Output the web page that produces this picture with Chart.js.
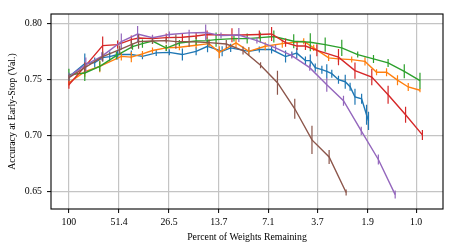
<!DOCTYPE html>
<html><head><meta charset="utf-8">
<script src="https://cdn.jsdelivr.net/npm/chart.js@4/dist/chart.umd.min.js"></script>
<style>html,body{margin:0;padding:0;background:#fff;}canvas{display:block;}</style>
</head><body>
<canvas id="c" width="457" height="252"></canvas>
<script>
const xTickValues = [100, 51.4, 26.5, 13.7, 7.1, 3.7, 1.9, 1.0];
const xTickLabels = ['100', '51.4', '26.5', '13.7', '7.1', '3.7', '1.9', '1.0'];
const yTickValues = [0.65, 0.70, 0.75, 0.80];
const yTickLabels = ['0.65', '0.70', '0.75', '0.80'];

const blueX = [100, 81.0, 71.0, 63.9, 58.2, 52.4, 43.7, 37.7, 31.4, 26.4, 22.2, 18.5, 15.9, 13.1, 11.7, 9.2, 8.0, 6.8, 5.65, 5.2, 4.87, 4.34, 4.07, 3.81, 3.49, 3.27, 3.06, 2.80, 2.56, 2.40, 2.25, 2.06, 1.93, 1.88];
const blueY = [0.7524, 0.7641, 0.7650, 0.7695, 0.7704, 0.7722, 0.7722, 0.7706, 0.7737, 0.7742, 0.7722, 0.7751, 0.7796, 0.7751, 0.7782, 0.7751, 0.7767, 0.7767, 0.7704, 0.7722, 0.7735, 0.7668, 0.7668, 0.7605, 0.7587, 0.7572, 0.7551, 0.7497, 0.7479, 0.7434, 0.7344, 0.7326, 0.7183, 0.7129];
const blueErr = [0.0036, 0.009, 0.0045, 0.0036, 0.0045, 0.0045, 0.0036, 0.0027, 0.0027, 0.0027, 0.0054, 0.0036, 0.0054, 0.0045, 0.0036, 0.0036, 0.0027, 0.0036, 0.0054, 0.0027, 0.0045, 0.0036, 0.0054, 0.0036, 0.0036, 0.0063, 0.0036, 0.0036, 0.0063, 0.0036, 0.0072, 0.0045, 0.009, 0.0081];

const orangeX = [100, 81.0, 66.4, 49.9, 43.7, 37.7, 33.0, 27.5, 23.1, 18.5, 15.6, 13.6, 10.9, 9.2, 7.4, 5.9, 4.44, 3.89, 3.19, 2.80, 2.35, 1.97, 1.69, 1.48, 1.28, 1.11, 0.95];
const orangeY = [0.7470, 0.7569, 0.7617, 0.7706, 0.7699, 0.7728, 0.7758, 0.7782, 0.7787, 0.7805, 0.7820, 0.7742, 0.7827, 0.7751, 0.7796, 0.7820, 0.7841, 0.7782, 0.7692, 0.7683, 0.7677, 0.7661, 0.7564, 0.7564, 0.7493, 0.7432, 0.7403];
const orangeErr = [0.0027, 0.0045, 0.0054, 0.0036, 0.0045, 0.0027, 0.0027, 0.0027, 0.0027, 0.0027, 0.0027, 0.0054, 0.0045, 0.0036, 0.0036, 0.0036, 0.0027, 0.0027, 0.0027, 0.0027, 0.0027, 0.0036, 0.0027, 0.0036, 0.0045, 0.0036, 0.0018];

const greenX = [100, 81.0, 66.4, 53.3, 43.0, 37.7, 33.0, 27.5, 23.1, 18.5, 16.0, 14.2, 11.2, 9.4, 7.9, 6.6, 5.07, 4.07, 3.34, 2.68, 2.17, 1.76, 1.45, 1.17, 0.95];
const greenY = [0.7542, 0.7557, 0.7617, 0.7713, 0.7793, 0.7820, 0.7843, 0.7780, 0.7825, 0.7843, 0.7847, 0.7856, 0.7865, 0.7865, 0.7874, 0.7883, 0.7841, 0.7832, 0.7811, 0.7782, 0.7722, 0.7683, 0.7647, 0.7572, 0.7488];
const greenErr = [0.0054, 0.0072, 0.0045, 0.0036, 0.0027, 0.0036, 0.0027, 0.0027, 0.0027, 0.0036, 0.0027, 0.0063, 0.0027, 0.0045, 0.0045, 0.0054, 0.0063, 0.0081, 0.0063, 0.0072, 0.0027, 0.0036, 0.0036, 0.0063, 0.0072];

const redX = [100, 81.0, 63.9, 52.4, 43.7, 39.7, 33.0, 27.5, 22.2, 18.5, 16.0, 11.5, 8.0, 6.8, 5.65, 4.85, 4.34, 3.73, 2.80, 2.25, 1.80, 1.45, 1.15, 0.92];
const redY = [0.7452, 0.7614, 0.7802, 0.7811, 0.7856, 0.7870, 0.7865, 0.7874, 0.7877, 0.7888, 0.7901, 0.7895, 0.7901, 0.7906, 0.7829, 0.7798, 0.7798, 0.7760, 0.7699, 0.7578, 0.7520, 0.7362, 0.7183, 0.7003];
const redErr = [0.0036, 0.0036, 0.0081, 0.0036, 0.0036, 0.0027, 0.0027, 0.0036, 0.0036, 0.0027, 0.0036, 0.0063, 0.0036, 0.0063, 0.0036, 0.0036, 0.0036, 0.0054, 0.0072, 0.0072, 0.0072, 0.0081, 0.0072, 0.0045];

const purpleX = [100, 79.9, 64.7, 49.9, 40.2, 33.0, 26.4, 20.3, 16.3, 13.3, 10.5, 8.26, 6.45, 5.2, 4.10, 3.27, 2.62, 2.07, 1.65, 1.32];
const purpleY = [0.7524, 0.7632, 0.7706, 0.7838, 0.7906, 0.7872, 0.7901, 0.7916, 0.7919, 0.7892, 0.7897, 0.7847, 0.7782, 0.7713, 0.7605, 0.7452, 0.7309, 0.7039, 0.6783, 0.6469];
const purpleErr = [0.0036, 0.0063, 0.0036, 0.0072, 0.0072, 0.0027, 0.0027, 0.0027, 0.0072, 0.0027, 0.0063, 0.0027, 0.0027, 0.0027, 0.0027, 0.0063, 0.0045, 0.0036, 0.0045, 0.0036];

const brownX = [100, 81.0, 63.9, 51.0, 43.7, 39.7, 33.0, 27.5, 24.2, 20.3, 15.6, 12.4, 9.93, 7.87, 6.29, 5.00, 3.98, 3.17, 2.53];
const brownY = [0.7515, 0.7605, 0.7704, 0.7767, 0.7811, 0.7838, 0.7843, 0.7847, 0.7838, 0.7838, 0.7829, 0.7816, 0.7758, 0.7627, 0.7470, 0.7237, 0.6958, 0.6806, 0.6487];
const brownErr = [0.0027, 0.0036, 0.0045, 0.0036, 0.0036, 0.0063, 0.0027, 0.0027, 0.0063, 0.0045, 0.0027, 0.0036, 0.0036, 0.0027, 0.0108, 0.009, 0.0126, 0.0063, 0.0027];

const seriesList = [
  {color: '#1f77b4', x: blueX, y: blueY, err: blueErr},
  {color: '#ff7f0e', x: orangeX, y: orangeY, err: orangeErr},
  {color: '#2ca02c', x: greenX, y: greenY, err: greenErr},
  {color: '#d62728', x: redX, y: redY, err: redErr},
  {color: '#9467bd', x: purpleX, y: purpleY, err: purpleErr},
  {color: '#8c564b', x: brownX, y: brownY, err: brownErr}
];

function linePts(xs, ys) { return xs.map((x, i) => ({x: x, y: ys[i]})); }
function errPts(xs, ys, es) {
  const out = [];
  xs.forEach((x, i) => { out.push({x: x, y: ys[i] - es[i]}, {x: x, y: ys[i] + es[i]}, {x: x, y: null}); });
  return out;
}

const datasets = [];
seriesList.forEach((s, k) => {
  datasets.push({data: linePts(s.x, s.y), borderColor: s.color, borderWidth: 1.4, pointRadius: 0, tension: 0, fill: false, order: 20 - 2 * k});
  datasets.push({data: errPts(s.x, s.y, s.err), borderColor: s.color, borderWidth: 1.2, pointRadius: 0, tension: 0, fill: false, spanGaps: false, order: 19 - 2 * k});
});

const tickFont = {family: "'Liberation Serif', 'Times New Roman', serif", size: 9.8};
const titleFont = {family: "'Liberation Serif', 'Times New Roman', serif", size: 9.8};
const gridColor = '#c4c4c4';

const framePlugin = {
  id: 'frame',
  afterDatasetsDraw(chart) {
    const a = chart.chartArea, ctx = chart.ctx;
    ctx.save();
    ctx.strokeStyle = '#000';
    ctx.lineWidth = 1.1;
    ctx.strokeRect(a.left, a.top, a.right - a.left, a.bottom - a.top);
    ctx.restore();
  }
};

new Chart(document.getElementById('c'), {
  type: 'line',
  data: {datasets: datasets},
  plugins: [framePlugin],
  options: {
    responsive: false, animation: false, devicePixelRatio: 1,
    layout: {padding: {top: 14, right: 14, left: 0, bottom: 0}},
    plugins: {legend: {display: false}, tooltip: {enabled: false}},
    scales: {
      x: {
        type: 'logarithmic', reverse: true, min: 0.72, max: 126.8,
        afterBuildTicks: s => { s.ticks = xTickValues.map(v => ({value: v})); },
        afterFit: s => { s.height = 43; },
        ticks: {callback: (v, i) => xTickLabels[i], font: tickFont, color: '#000', maxRotation: 0, autoSkip: false, padding: 4},
        grid: {color: gridColor, lineWidth: 1.2, tickColor: '#000', tickLength: 4, tickWidth: 1},
        border: {display: false},
        title: {display: true, text: 'Percent of Weights Remaining', font: titleFont, color: '#000', padding: {top: 1, bottom: 9}}
      },
      y: {
        type: 'linear', min: 0.634, max: 0.8085,
        afterBuildTicks: s => { s.ticks = yTickValues.map(v => ({value: v})); },
        afterFit: s => { s.width = 51; },
        ticks: {callback: (v, i) => yTickLabels[i], font: tickFont, color: '#000', padding: 5},
        grid: {color: gridColor, lineWidth: 1.2, tickColor: '#000', tickLength: 4, tickWidth: 1},
        border: {display: false},
        title: {display: true, text: 'Accuracy at Early-Stop (Val.)', font: titleFont, color: '#000', padding: {top: 7, bottom: 0}}
      }
    }
  }
});
</script>
</body></html>
